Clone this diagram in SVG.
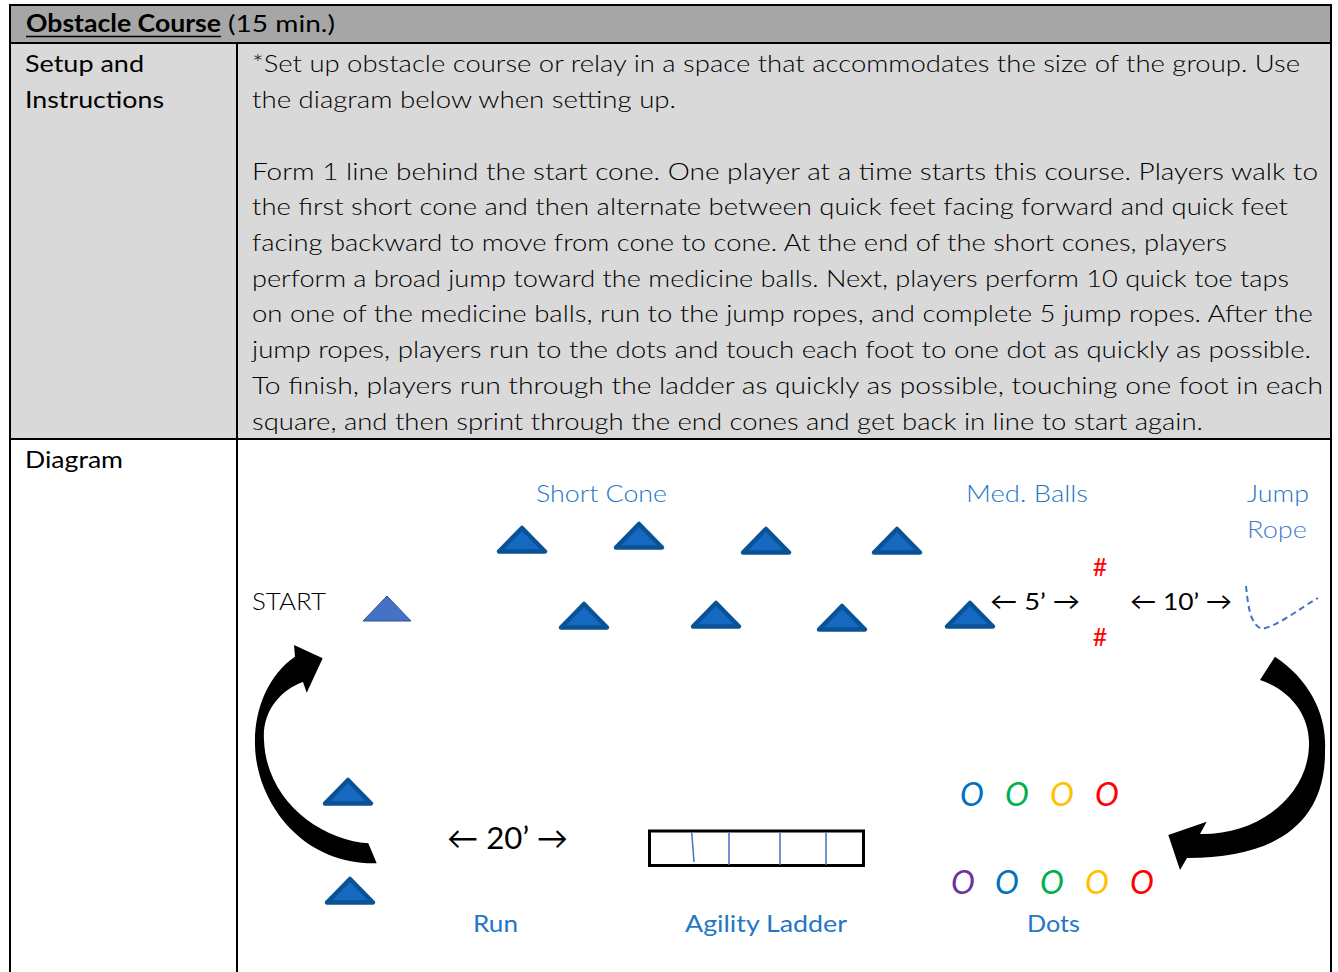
<svg xmlns="http://www.w3.org/2000/svg" xmlns:xlink="http://www.w3.org/1999/xlink" width="1338" height="972" viewBox="0 0 1338 972">
<style>
text{font-family:Lato,"Noto Sans","DejaVu Sans",sans-serif;font-size:24px;font-weight:300;fill:#000}
.bold{font-weight:700}
.reg{font-weight:400}
.b{fill:#2577C4}
.r{fill:#4A7CCB}
.cone{fill:#1569C0;stroke:#0A5296;stroke-width:4.5;stroke-linejoin:round}
.o{font-style:italic;font-size:32px;font-weight:400;text-anchor:middle}
.hash{fill:#FF0000;font-size:25px;font-weight:400;text-anchor:middle}
.grid{stroke:#000;stroke-width:2;fill:none}
</style>
<defs>
<path id="cone" class="cone" d="M-23,26.5 L0,3 L23,26.5 Z"/>
</defs>
<g id="table">
<rect x="10" y="5" width="1321" height="38" fill="#A6A6A6"/>
<rect x="10" y="43" width="1321" height="396" fill="#D9D9D9"/>
<rect x="10" y="439" width="1321" height="533" fill="#FFFFFF"/>
<path class="grid" d="M10,5 H1331 M10,43 H1331 M10,439 H1331 M10,4 V972 M1331,4 V972 M237,43 V972"/>
<text class="bold" x="26" y="32" textLength="195" lengthAdjust="spacingAndGlyphs">Obstacle Course</text>
<line x1="26" y1="36.5" x2="221" y2="36.5" stroke="#000" stroke-width="1.5"/>
<text class="reg" x="228" y="32" textLength="107" lengthAdjust="spacingAndGlyphs">(15 min.)</text>
<text class="reg" x="25" y="72" textLength="119" lengthAdjust="spacingAndGlyphs">Setup and</text>
<text class="reg" x="25" y="108" textLength="139" lengthAdjust="spacingAndGlyphs">Instructions</text>
<text class="reg" x="25" y="468" textLength="98" lengthAdjust="spacingAndGlyphs">Diagram</text>
</g>
<g id="instructions">
<text x="252" y="72" textLength="1048" lengthAdjust="spacingAndGlyphs">*Set up obstacle course or relay in a space that accommodates the size of the group. Use</text>
<text x="252" y="108" textLength="424" lengthAdjust="spacingAndGlyphs">the diagram below when setting up.</text>
<text x="252" y="180" textLength="1066" lengthAdjust="spacingAndGlyphs">Form 1 line behind the start cone. One player at a time starts this course. Players walk to</text>
<text x="252" y="215" textLength="1036" lengthAdjust="spacingAndGlyphs">the first short cone and then alternate between quick feet facing forward and quick feet</text>
<text x="252" y="251" textLength="975" lengthAdjust="spacingAndGlyphs">facing backward to move from cone to cone. At the end of the short cones, players</text>
<text x="252" y="287" textLength="1037" lengthAdjust="spacingAndGlyphs">perform a broad jump toward the medicine balls. Next, players perform 10 quick toe taps</text>
<text x="252" y="322" textLength="1061" lengthAdjust="spacingAndGlyphs">on one of the medicine balls, run to the jump ropes, and complete 5 jump ropes. After the</text>
<text x="252" y="358" textLength="1059" lengthAdjust="spacingAndGlyphs">jump ropes, players run to the dots and touch each foot to one dot as quickly as possible.</text>
<text x="252" y="394" textLength="1071" lengthAdjust="spacingAndGlyphs">To finish, players run through the ladder as quickly as possible, touching one foot in each</text>
<text x="252" y="430" textLength="951" lengthAdjust="spacingAndGlyphs">square, and then sprint through the end cones and get back in line to start again.</text>
</g>
<g id="labels">
<text class="b" x="536" y="502" textLength="131" lengthAdjust="spacingAndGlyphs">Short Cone</text>
<text class="b" x="966" y="502" textLength="122" lengthAdjust="spacingAndGlyphs">Med. Balls</text>
<text class="b" x="1247" y="502" textLength="62" lengthAdjust="spacingAndGlyphs">Jump</text>
<text class="r" x="1247" y="538" textLength="60" lengthAdjust="spacingAndGlyphs">Rope</text>
<text x="252" y="610" textLength="74" lengthAdjust="spacingAndGlyphs">START</text>
<text class="b reg" x="473" y="932" textLength="45" lengthAdjust="spacingAndGlyphs">Run</text>
<text class="b reg" x="685" y="932" textLength="162" lengthAdjust="spacingAndGlyphs">Agility Ladder</text>
<text class="b reg" x="1027" y="932" textLength="53" lengthAdjust="spacingAndGlyphs">Dots</text>
</g>
<g id="start-cone">
<polygon points="363,621 387,596 411,621" fill="#4472C4" stroke="#2F528F" stroke-width="1"/>
</g>
<g id="short-cones">
<use xlink:href="#cone" transform="translate(522,525)"/>
<use xlink:href="#cone" transform="translate(639,521)"/>
<use xlink:href="#cone" transform="translate(766,526)"/>
<use xlink:href="#cone" transform="translate(897,526)"/>
<use xlink:href="#cone" transform="translate(584,601)"/>
<use xlink:href="#cone" transform="translate(716,600)"/>
<use xlink:href="#cone" transform="translate(842,603)"/>
<use xlink:href="#cone" transform="translate(970,600)"/>
</g>
<g id="end-cones">
<use xlink:href="#cone" transform="translate(348,777)"/>
<use xlink:href="#cone" transform="translate(350,876)"/>
</g>
<g id="med-balls">
<text class="hash" x="1100" y="576">#</text>
<text class="hash" x="1100" y="646">#</text>
</g>
<g id="distances">
<text class="reg" x="990" y="610" textLength="90" lengthAdjust="spacingAndGlyphs">← 5’ →</text>
<text class="reg" x="1130" y="610" textLength="102" lengthAdjust="spacingAndGlyphs">← 10’ →</text>
<text class="reg" x="447" y="849" style="font-size:31px" textLength="121" lengthAdjust="spacingAndGlyphs">← 20’ →</text>
</g>
<g id="jump-rope">
<path d="M1246,586 C1248,605 1250,625 1262,629 C1280,625 1300,608 1318,598" fill="none" stroke="#4472C4" stroke-width="2" stroke-dasharray="6,4"/>
</g>
<g id="agility-ladder">
<rect x="649.5" y="831" width="214" height="34.5" fill="#fff" stroke="#000" stroke-width="3"/>
<path d="M691.7,832 L694,862 M729,833 V865 M780,833 V865 M826,833 V865" stroke="#4472C4" stroke-width="1.5" fill="none"/>
</g>
<g id="dots">
<text class="o" x="972" y="806" style="fill:#0070C0">O</text>
<text class="o" x="1017" y="806" style="fill:#00B050">O</text>
<text class="o" x="1062" y="806" style="fill:#FFC000">O</text>
<text class="o" x="1107" y="806" style="fill:#FF0000">O</text>
<text class="o" x="963" y="894" style="fill:#7030A0">O</text>
<text class="o" x="1007" y="894" style="fill:#0070C0">O</text>
<text class="o" x="1052" y="894" style="fill:#00B050">O</text>
<text class="o" x="1097" y="894" style="fill:#FFC000">O</text>
<text class="o" x="1142" y="894" style="fill:#FF0000">O</text>
</g>
<g id="connectors">
<path d="M376.7,863.3 L368.3,843.3 C320,840 266,800 264,740 C262,712 280,690 303,682 L306.7,692.7 L322.7,658.3 L294,645 L295,656.7 C268,675 254,710 255,745 C256,800 300,865 376.7,863.3 Z" fill="#000"/>
<path d="M1275,656.7 C1310,680 1327,715 1325,750 C1326,820 1280,858 1187,858 L1180,870 L1168.3,835 L1206.7,821.7 L1200,834 C1260,835 1308,795 1309,745 C1310,715 1290,690 1260,680 Z" fill="#000"/>
</g>
</svg>
